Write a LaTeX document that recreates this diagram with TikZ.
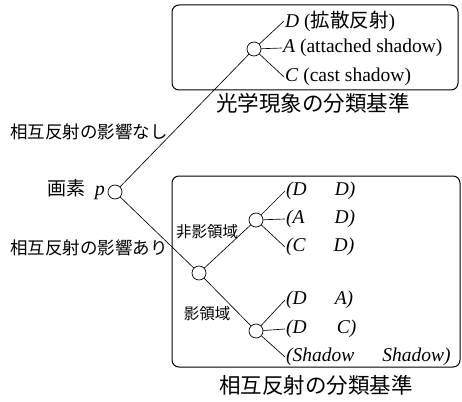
\documentclass[tikz,border=0pt]{standalone}
\usepackage{fontspec}
\setmainfont{Liberation Serif}
\newfontfamily\jp{Noto Sans CJK JP}
\begin{document}
\begin{tikzpicture}[x=1pt,y=-1pt,
  dot/.style={circle,draw,fill=white,minimum size=14pt,inner sep=0pt,line width=0.7pt},
  conn/.style={line width=0.65pt},
  frame/.style={draw,line width=1pt,rounded corners=7pt},
  leaf/.style={anchor=west,inner sep=1pt,font=\fontsize{19.5}{20}\selectfont},
  ileaf/.style={anchor=west,inner sep=1pt,font=\fontsize{19.5}{20}\selectfont\itshape},
  side/.style={anchor=west,inner sep=0pt,font=\jp\fontsize{17.5}{18}\selectfont},
  small/.style={inner sep=0pt,font=\jp\fontsize{15.5}{16}\selectfont},
  title/.style={inner sep=0pt,font=\jp\fontsize{21.5}{22}\selectfont}]
\useasboundingbox (0,0) rectangle (462,401);
% frames
\draw[frame] (172,5) rectangle (458,90);
\draw[frame] (172,176) rectangle (460,367);
% nodes
\node[dot] (P) at (115,192) {};
\node[dot] (T) at (254,49) {};
\node[dot] (M) at (199,273) {};
\node[dot] (U) at (256,220) {};
\node[dot] (L) at (256,331) {};
% labels
\node[anchor=east,inner sep=0pt] (px) at (105,190) {{\jp\fontsize{19}{20}\selectfont 画素}\hspace{9pt}{\fontsize{20}{20}\selectfont\itshape p}};
\node[side] (no) at (10,132) {相互反射の影響なし};
\node[side] (yes) at (10,248) {相互反射の影響あり};
\node[small] (nsh) at (207,232) {非影領域};
\node[small] (sh) at (207,314) {影領域};
\node[title] (t1) at (313,103) {光学現象の分類基準};
\node[title] (t2) at (316,385) {相互反射の分類基準};
% leaves top
\node[leaf] (d) at (284,21) {\textit{D} ({\jp 拡散反射})};
\node[leaf] (a) at (282,48) {\textit{A} (attached shadow)};
\node[leaf] (c) at (284,77) {\textit{C} (cast shadow)};
% leaves bottom
\node[ileaf] (u1) at (285,191) {(D\hspace{28pt}D)};
\node[ileaf] (u2) at (285,219) {(A\hspace{30pt}D)};
\node[ileaf] (u3) at (285,247) {(C\hspace{28pt}D)};
\node[ileaf] (l1) at (285,300) {(D\hspace{28pt}A)};
\node[ileaf] (l2) at (285,329) {(D\hspace{30pt}C)};
\node[ileaf] (l3) at (285,357) {(Shadow\hspace{28pt}Shadow)};
% connectors
\draw[conn] (P) -- (T);
\draw[conn] (P) -- (M);
\draw[conn] (M) -- (U);
\draw[conn] (M) -- (L);
\draw[conn] (T) -- (d.west);
\draw[conn] (T) -- (a.west);
\draw[conn] (T) -- (c.west);
\draw[conn] (U) -- (u1.west);
\draw[conn] (U) -- (u2.west);
\draw[conn] (U) -- (u3.west);
\draw[conn] (L) -- (l1.west);
\draw[conn] (L) -- (l2.west);
\draw[conn] (L) -- (l3.west);
\end{tikzpicture}
\end{document}
